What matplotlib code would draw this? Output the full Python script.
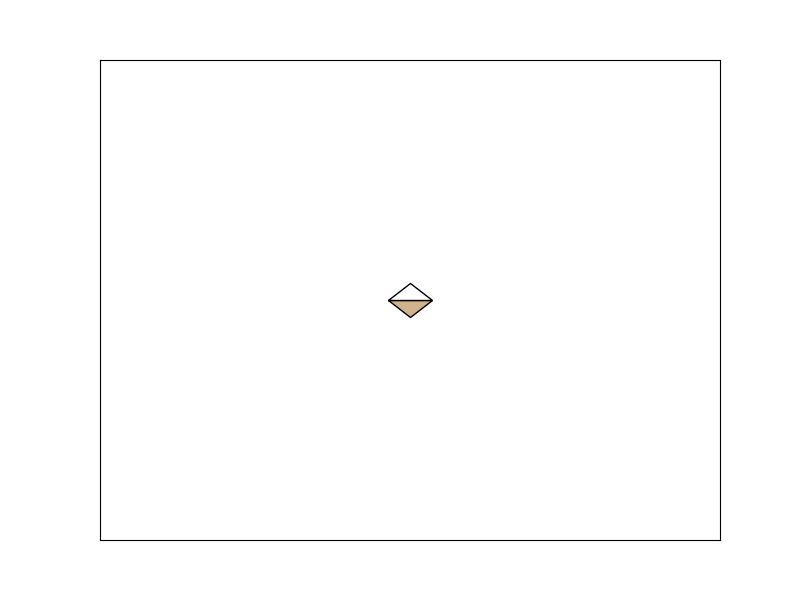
import matplotlib
matplotlib.use("Agg")
import matplotlib.pyplot as plt
from matplotlib.markers import MarkerStyle
from matplotlib.transforms import Affine2D

x_vals = [0]
y_vals = [0]

fig, ax = plt.subplots(figsize=(8, 6), dpi=100)
fig.subplots_adjust(left=0.125, right=0.9, bottom=0.1, top=0.9)
marker = MarkerStyle('D', fillstyle='bottom', transform=Affine2D().scale(1.29, 1.0))
ax.plot(x_vals, y_vals, linestyle='none', marker=marker, markersize=17.6,
        markerfacecolor='tan', markerfacecoloralt='white', markeredgecolor='black',
        markeredgewidth=1.0)
ax.set_xticks([])
ax.set_yticks([])
fig.savefig("out.png", dpi=100)
